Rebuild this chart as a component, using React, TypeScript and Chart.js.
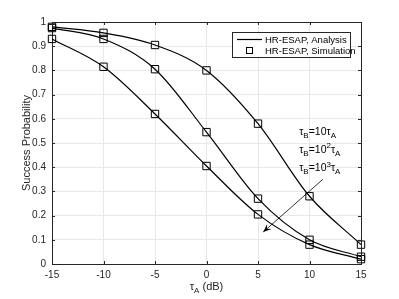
import React, { useEffect, useRef } from "react";
import { Chart, registerables } from "chart.js";

Chart.register(...registerables);

const xValues = [-15, -10, -5, 0, 5, 10, 15];
const seriesB10 = [0.98, 0.955, 0.905, 0.8, 0.58, 0.28, 0.08];
const seriesB100 = [0.975, 0.93, 0.805, 0.545, 0.27, 0.1, 0.03];
const seriesB1000 = [0.93, 0.815, 0.62, 0.405, 0.205, 0.08, 0.02];
const xTicks = [-15, -10, -5, 0, 5, 10, 15];
const yTicks = [0, 0.1, 0.2, 0.3, 0.4, 0.5, 0.6, 0.7, 0.8, 0.9, 1];
const legendLabels = ["HR-ESAP, Analysis", "HR-ESAP, Simulation"];
const annotationExps = ["", "2", "3"];
const annotationPos = [
  { x: 9.0, y: 0.535 },
  { x: 9.0, y: 0.46 },
  { x: 9.0, y: 0.385 },
];
const arrowFrom = { x: 11.3, y: 0.35 };
const arrowTo = { x: 5.5, y: 0.132 };

const FONT = '"Liberation Sans", Arial, Helvetica, sans-serif';
const DARK = "#262626";

type Part = { t: string; sub?: boolean; sup?: boolean };

function drawRich(ctx: CanvasRenderingContext2D, parts: Part[], x: number, y: number, size: number, align: "left" | "center" = "left") {
  const small = Math.round(size * 0.75);
  let total = 0;
  for (const p of parts) {
    ctx.font = `${p.sub || p.sup ? small : size}px ${FONT}`;
    total += ctx.measureText(p.t).width;
  }
  let cx = align === "center" ? x - total / 2 : x;
  ctx.textBaseline = "alphabetic";
  ctx.textAlign = "left";
  for (const p of parts) {
    const s = p.sub || p.sup ? small : size;
    ctx.font = `${s}px ${FONT}`;
    const dy = p.sub ? size * 0.3 : p.sup ? -size * 0.4 : 0;
    ctx.fillText(p.t, cx, y + dy);
    cx += ctx.measureText(p.t).width;
  }
}

const makeLine = (data: number[], label: string) => ({
  label,
  data: xValues.map((x, i) => ({ x, y: data[i] })),
  borderColor: "#000",
  borderWidth: 1.2,
  pointRadius: 0,
  cubicInterpolationMode: "monotone" as const,
  clip: false as const,
});
const makeMarkers = (data: number[], label: string) => ({
  label,
  data: xValues.map((x, i) => ({ x, y: data[i] })),
  showLine: false,
  pointStyle: "rect" as const,
  pointRadius: 5.2,
  pointBorderColor: "#000",
  pointBackgroundColor: "rgba(0,0,0,0)",
  pointBorderWidth: 1,
  borderColor: "#000",
  clip: false as const,
});

const overlay = {
  id: "overlay",
  afterDraw(chart: any) {
    const ctx: CanvasRenderingContext2D = chart.ctx;
    const { left, right, top, bottom } = chart.chartArea;
    const xs = chart.scales.x;
    const ys = chart.scales.y;
    ctx.save();
    // box
    ctx.strokeStyle = DARK;
    ctx.lineWidth = 1;
    ctx.beginPath();
    ctx.moveTo(left + 0.5, top + 0.5);
    ctx.lineTo(right + 0.5, top + 0.5);
    ctx.lineTo(right + 0.5, bottom + 0.5);
    ctx.stroke();
    // inward ticks
    ctx.beginPath();
    for (const t of xTicks) {
      const px = Math.round(xs.getPixelForValue(t)) + 0.5;
      ctx.moveTo(px, bottom);
      ctx.lineTo(px, bottom - 3);
      ctx.moveTo(px, top);
      ctx.lineTo(px, top + 3);
    }
    for (const t of yTicks) {
      const py = Math.round(ys.getPixelForValue(t)) + 0.5;
      ctx.moveTo(left, py);
      ctx.lineTo(left + 3, py);
      ctx.moveTo(right, py);
      ctx.lineTo(right - 3, py);
    }
    ctx.stroke();

    // axis titles
    ctx.fillStyle = DARK;
    drawRich(ctx, [{ t: "τ" }, { t: "A", sub: true }, { t: " (dB)" }], (left + right) / 2, 290, 11, "center");
    ctx.save();
    ctx.translate(27, (top + bottom) / 2);
    ctx.rotate(-Math.PI / 2);
    ctx.font = `11px ${FONT}`;
    ctx.textAlign = "center";
    ctx.textBaseline = "middle";
    ctx.fillText("Success Probability", 0, 0);
    ctx.restore();

    // annotations
    ctx.fillStyle = "#000";
    annotationPos.forEach((p, i) => {
      const parts: Part[] = [{ t: "τ" }, { t: "B", sub: true }, { t: "=10" }];
      if (annotationExps[i]) parts.push({ t: annotationExps[i], sup: true });
      parts.push({ t: "τ" }, { t: "A", sub: true });
      drawRich(ctx, parts, xs.getPixelForValue(p.x), ys.getPixelForValue(p.y), 10.5);
    });

    // arrow
    const x1 = xs.getPixelForValue(arrowFrom.x);
    const y1 = ys.getPixelForValue(arrowFrom.y);
    const x2 = xs.getPixelForValue(arrowTo.x);
    const y2 = ys.getPixelForValue(arrowTo.y);
    ctx.strokeStyle = "#000";
    ctx.lineWidth = 0.8;
    ctx.beginPath();
    ctx.moveTo(x1, y1);
    ctx.lineTo(x2, y2);
    ctx.stroke();
    const ang = Math.atan2(y2 - y1, x2 - x1);
    const L = 9;
    const W = 0.38;
    ctx.fillStyle = "#000";
    ctx.beginPath();
    ctx.moveTo(x2, y2);
    ctx.lineTo(x2 - L * Math.cos(ang - W), y2 - L * Math.sin(ang - W));
    ctx.lineTo(x2 - L * 0.55 * Math.cos(ang), y2 - L * 0.55 * Math.sin(ang));
    ctx.lineTo(x2 - L * Math.cos(ang + W), y2 - L * Math.sin(ang + W));
    ctx.closePath();
    ctx.fill();

    // legend
    const lx = 232, ly = 32, lw = 118, lh = 25;
    ctx.fillStyle = "#fff";
    ctx.fillRect(lx, ly, lw, lh);
    ctx.strokeStyle = DARK;
    ctx.lineWidth = 1;
    ctx.strokeRect(lx + 0.5, ly + 0.5, lw, lh);
    ctx.strokeStyle = "#000";
    ctx.lineWidth = 1.2;
    ctx.beginPath();
    ctx.moveTo(lx + 5, ly + 7.5);
    ctx.lineTo(lx + 30, ly + 7.5);
    ctx.stroke();
    ctx.lineWidth = 1;
    ctx.strokeRect(lx + 14.5, ly + 15.5, 6, 6);
    ctx.fillStyle = "#000";
    ctx.font = `9.5px ${FONT}`;
    ctx.textAlign = "left";
    ctx.textBaseline = "middle";
    ctx.fillText(legendLabels[0], lx + 33, ly + 8);
    ctx.fillText(legendLabels[1], lx + 33, ly + 19);
    ctx.restore();
  },
};

export default function App() {
  const ref = useRef<HTMLCanvasElement>(null);
  useEffect(() => {
    if (!ref.current) return;
    const chart = new Chart(ref.current, {
      type: "line",
      data: {
        datasets: [
          makeLine(seriesB10, legendLabels[0]),
          makeLine(seriesB100, legendLabels[0]),
          makeLine(seriesB1000, legendLabels[0]),
          makeMarkers(seriesB10, legendLabels[1]),
          makeMarkers(seriesB100, legendLabels[1]),
          makeMarkers(seriesB1000, legendLabels[1]),
        ] as any,
      },
      options: {
        animation: false,
        responsive: false,
        devicePixelRatio: 1,
        layout: { padding: { top: 22, right: 38, left: 0, bottom: 0 } },
        plugins: { legend: { display: false }, tooltip: { enabled: false } },
        scales: {
          x: {
            type: "linear",
            min: -15,
            max: 15,
            afterFit: (s: any) => { s.height = 35; },
            afterBuildTicks: (s: any) => { s.ticks = xTicks.map((v) => ({ value: v })); },
            ticks: { color: DARK, font: { size: 10, family: FONT }, padding: 5, maxRotation: 0, autoSkip: false },
            grid: { color: "#e8e8e8", drawTicks: false },
            border: { display: true, color: DARK },
          },
          y: {
            type: "linear",
            min: 0,
            max: 1,
            afterFit: (s: any) => { s.width = 52; },
            afterBuildTicks: (s: any) => { s.ticks = yTicks.map((v) => ({ value: v })); },
            ticks: { color: DARK, font: { size: 10, family: FONT }, padding: 6, autoSkip: false, callback: (v: any) => String(Math.round(v * 10) / 10) },
            grid: { color: "#e8e8e8", drawTicks: false },
            border: { display: true, color: DARK },
          },
        },
      },
      plugins: [overlay],
    });
    return () => chart.destroy();
  }, []);
  return (
    <div style={{ position: "fixed", left: 0, top: 0, width: 399, height: 299, background: "#fff" }}>
      <canvas ref={ref} width={399} height={299} style={{ width: 399, height: 299, display: "block" }} />
    </div>
  );
}
